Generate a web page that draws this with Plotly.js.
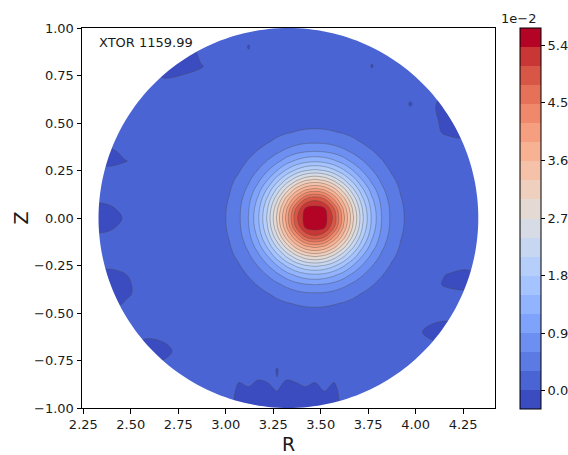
<!DOCTYPE html>
<html>
<head>
<meta charset="utf-8">
<script src="https://cdn.plot.ly/plotly-3.0.1.min.js"></script>
<style>html,body{margin:0;padding:0;background:#fff;}#chart{width:568px;height:455px;}</style>
</head>
<body>
<div id="chart"></div>
<script>
// ---- data (field values in units of 1e-2) ----
const R = [2.27,2.37,2.47,2.57,2.67,2.77,2.87,2.97,3.02,3.07,3.12,3.17,3.22,3.27,3.32,3.37,3.42,3.47,3.52,3.57,3.62,3.67,3.72,3.77,3.82,3.87,3.92,3.97,4.07,4.17,4.27,4.37];
const Z = [-1.0,-0.9,-0.8,-0.7,-0.6,-0.5,-0.45,-0.4,-0.35,-0.3,-0.25,-0.2,-0.15,-0.1,-0.05,0,0.05,0.1,0.15,0.2,0.25,0.3,0.35,0.4,0.45,0.5,0.6,0.7,0.8,0.9,1.0];
const psi = [
[0.15,0.15,0.15,0.15,0.15,0.15,0.15, 0.15,0.15,-0.2,-0.2,-0.2,-0.2,-0.2,-0.2,-0.2,-0.2,-0.2,-0.2,-0.2,0.15,0.15,0.15,0.15,0.15,0.15,0.15,0.15, 0.15,0.15,0.15,0.15],
[0.15,0.15,0.15,0.15,0.15,0.15,0.15, 0.15,0.15,-0.05,0,-0.1,-0.05,0.05,-0.1,-0.05,0,-0.05,0.05,-0.05,0.15,0.15,0.15,0.15,0.15,0.15,0.15,0.15, 0.15,0.15,0.15,0.15],
[0.15,0.15,0.15,0.15,0.15,0.15,0.15, 0.15,0.15,0.15,0.15,0.15,0.15,0,0.15,0.15,0.15,0.15,0.15,0.15,0.15,0.15,0.15,0.15,0.15,0.15,0.15,0.15, 0.15,0.15,0.15,0.15],
[0.15,0.15,0.15,-0.2,-0.1,0.15,0.15, 0.15,0.15,0.15,0.15,0.15,0.15,0.15,0.15,0.15,0.15,0.15,0.15,0.15,0.15,0.15,0.15,0.15,0.15,0.15,0.15,0.15, 0.15,0.15,0.15,0.15],
[0.15,0.15,0.15,0.15,0.15,0.15,0.15, 0.15,0.15,0.15,0.15,0.15,0.15,0.15,0.15,0.15,0.15,0.15,0.15,0.15,0.15,0.15,0.15,0.15,0.15,0.15,0.15,0.15, -0.05,-0.15,0.15,0.15],
[0.15,0.15,0.15,0.15,0.15,0.15,0.15, 0.15,0.15,0.16,0.17,0.17,0.19,0.20,0.22,0.23,0.25,0.25,0.25,0.23,0.22,0.20,0.19,0.17,0.17,0.16,0.15,0.15, 0.15,0.15,0.15,0.15],
[0.15,-0.2,0.05,0.15,0.15,0.15,0.15, 0.15,0.16,0.17,0.18,0.20,0.23,0.26,0.30,0.33,0.35,0.36,0.35,0.33,0.30,0.26,0.23,0.20,0.18,0.17,0.16,0.15, 0.15,0.15,0.15,0.15],
[0.15,-0.2,-0.05,0.15,0.15,0.15,0.15, 0.16,0.17,0.18,0.21,0.25,0.30,0.37,0.44,0.51,0.56,0.57,0.56,0.51,0.44,0.37,0.30,0.25,0.21,0.18,0.17,0.16, 0.15,0.15,0.15,0.15],
[0.15,-0.2,-0.05,0.15,0.15,0.15,0.15, 0.17,0.18,0.21,0.26,0.33,0.43,0.56,0.69,0.81,0.89,0.92,0.89,0.81,0.69,0.56,0.43,0.33,0.26,0.21,0.18,0.17, 0.15,-0.05,-0.15,0.15],
[0.15,-0.2,0,0.15,0.15,0.15,0.15, 0.17,0.20,0.25,0.33,0.46,0.63,0.83,1.06,1.26,1.40,1.45,1.40,1.26,1.06,0.83,0.63,0.46,0.33,0.25,0.20,0.17, 0.15,0,-0.15,0.15],
[0.15,0.15,0.15,0.15,0.15,0.15,0.15, 0.19,0.23,0.30,0.43,0.63,0.89,1.21,1.56,1.87,2.09,2.17,2.09,1.87,1.56,1.21,0.89,0.63,0.43,0.30,0.23,0.19, 0.15,0.15,0.15,0.15],
[0.15,0.15,0.15,0.15,0.15,0.15,0.15, 0.20,0.26,0.37,0.56,0.83,1.21,1.68,2.17,2.62,2.94,3.06,2.94,2.62,2.17,1.68,1.21,0.83,0.56,0.37,0.26,0.20, 0.15,0.15,0.15,0.15],
[0.15,0.15,0.15,0.15,0.15,0.15,0.15, 0.22,0.30,0.44,0.69,1.06,1.56,2.17,2.83,3.43,3.85,4.00,3.85,3.43,2.83,2.17,1.56,1.06,0.69,0.44,0.30,0.22, 0.15,0.15,0.15,0.15],
[0.15,0.15,0.15,0.15,0.15,0.15,0.15, 0.23,0.33,0.51,0.81,1.26,1.87,2.62,3.43,4.16,4.80,5.00,4.80,4.16,3.43,2.62,1.87,1.26,0.81,0.51,0.33,0.23, 0.15,0.15,0.15,0.15],
[-0.2,-0.1,0.15,0.15,0.15,0.15,0.15, 0.25,0.35,0.56,0.89,1.40,2.09,2.94,3.85,4.80,5.42,5.52,5.42,4.80,3.85,2.94,2.09,1.40,0.89,0.56,0.35,0.25, 0.15,0.15,0.15,0.15],
[-0.2,-0.15,0.05,0.15,0.15,0.15,0.15, 0.25,0.36,0.57,0.92,1.45,2.17,3.06,4.00,5.00,5.52,5.68,5.52,5.00,4.00,3.06,2.17,1.45,0.92,0.57,0.36,0.25, 0.15,0.15,0.15,0.15],
[-0.2,-0.1,0.15,0.15,0.15,0.15,0.15, 0.25,0.35,0.56,0.89,1.40,2.09,2.94,3.85,4.80,5.42,5.52,5.42,4.80,3.85,2.94,2.09,1.40,0.89,0.56,0.35,0.25, 0.15,0.15,0.15,0.15],
[0.15,0.15,0.15,0.15,0.15,0.15,0.15, 0.23,0.33,0.51,0.81,1.26,1.87,2.62,3.43,4.16,4.80,5.00,4.80,4.16,3.43,2.62,1.87,1.26,0.81,0.51,0.33,0.23, 0.15,0.15,0.15,0.15],
[0.15,0.15,0.15,0.15,0.15,0.15,0.15, 0.22,0.30,0.44,0.69,1.06,1.56,2.17,2.83,3.43,3.85,4.00,3.85,3.43,2.83,2.17,1.56,1.06,0.69,0.44,0.30,0.22, 0.15,0.15,0.15,0.15],
[0.15,0.15,0.15,0.15,0.15,0.15,0.15, 0.20,0.26,0.37,0.56,0.83,1.21,1.68,2.17,2.62,2.94,3.06,2.94,2.62,2.17,1.68,1.21,0.83,0.56,0.37,0.26,0.20, 0.15,0.15,0.15,0.15],
[0.15,0.15,0.15,0.15,0.15,0.15,0.15, 0.19,0.23,0.30,0.43,0.63,0.89,1.21,1.56,1.87,2.09,2.17,2.09,1.87,1.56,1.21,0.89,0.63,0.43,0.30,0.23,0.19, 0.15,0.15,0.15,0.15],
[0.15,-0.15,0,0.15,0.15,0.15,0.15, 0.17,0.20,0.25,0.33,0.46,0.63,0.83,1.06,1.26,1.40,1.45,1.40,1.26,1.06,0.83,0.63,0.46,0.33,0.25,0.20,0.17, 0.15,0.15,0.15,0.15],
[0.15,-0.15,0.15,0.15,0.15,0.15,0.15, 0.17,0.18,0.21,0.26,0.33,0.43,0.56,0.69,0.81,0.89,0.92,0.89,0.81,0.69,0.56,0.43,0.33,0.26,0.21,0.18,0.17, 0.15,0.15,0.15,0.15],
[0.15,0.15,0.15,0.15,0.15,0.15,0.15, 0.16,0.17,0.18,0.21,0.25,0.30,0.37,0.44,0.51,0.56,0.57,0.56,0.51,0.44,0.37,0.30,0.25,0.21,0.18,0.17,0.16, 0.15,0.15,0.15,0.15],
[0.15,0.15,0.15,0.15,0.15,0.15,0.15, 0.15,0.16,0.17,0.18,0.20,0.23,0.26,0.30,0.33,0.35,0.36,0.35,0.33,0.30,0.26,0.23,0.20,0.18,0.17,0.16,0.15, 0.15,-0.05,-0.2,0.15],
[0.15,0.15,0.15,0.15,0.15,0.15,0.15, 0.15,0.15,0.16,0.17,0.17,0.19,0.20,0.22,0.23,0.25,0.25,0.25,0.23,0.22,0.20,0.19,0.17,0.17,0.16,0.15,0.15, 0.15,-0.1,-0.2,0.15],
[0.15,0.15,0.15,0.15,0.15,0.15,0.15, 0.15,0.15,0.15,0.15,0.15,0.15,0.15,0.15,0.15,0.15,0.15,0.15,0.15,0.15,0.15,0.15,0.15,0.15,0.15,0.15,0, 0.15,-0.2,-0.2,0.15],
[0.15,0.15,0.15,0.15,0.15,0.15,0.15, 0.15,0.15,0.15,0.15,0.15,0.15,0.15,0.15,0.15,0.15,0.15,0.15,0.15,0.15,0.15,0.15,0.15,0.15,0.15,0.15,0.15, 0.15,0.15,0.15,0.15],
[0.15,0.15,0.15,0.15,-0.2,-0.1,0, 0.15,0.15,0.15,0.15,0.15,0.15,0.15,0.15,0.15,0.15,0.15,0.15,0.15,0.15,0.15,0.15,0,0.15,0.15,0.15,0.15, 0.15,0.15,0.15,0.15],
[0.15,0.15,0.15,0.15,-0.2,-0.2,0.15, 0.15,0.15,0.15,0,0.15,0.15,0.15,0.15,0.15,0.15,0.15,0.15,0.15,0.15,0.15,0.15,0.15,0.15,0.15,0.15,0.15, 0.15,0.15,0.15,0.15],
[0.15,0.15,0.15,0.15,0.15,0.15,0.15, 0.15,0.15,0.15,0.15,0.15,0.15,0.15,0.15,0.15,0.15,0.15,0.15,0.15,0.15,0.15,0.15,0.15,0.15,0.15,0.15,0.15, 0.15,0.15,0.15,0.15]
];
const levelMin = -0.28, levelMax = 5.68, levelStep = 0.298;
const xTicks = [2.25,2.50,2.75,3.00,3.25,3.50,3.75,4.00,4.25];
const yTicks = [-1.00,-0.75,-0.50,-0.25,0.00,0.25,0.50,0.75,1.00];
const cbTicks = [0.0,0.9,1.8,2.7,3.6,4.5,5.4];
const label = 'XTOR 1159.99';

// ---- domain geometry (plasma boundary) ----
const R0 = 3.33, a0 = 1.0;

// ---- coolwarm colormap ----
const cw = [[59,76,192],[68,90,204],[77,104,215],[87,117,225],[98,130,234],[108,142,241],[119,154,247],[130,165,251],[141,176,254],[152,185,255],[163,194,255],[174,201,253],[184,208,249],[194,213,244],[204,217,238],[213,219,230],[221,221,221],[229,216,209],[236,211,197],[241,204,184],[245,196,172],[247,187,159],[247,177,147],[247,166,134],[244,154,123],[241,141,111],[236,127,99],[229,112,88],[222,96,77],[213,80,66],[203,62,56],[192,40,47],[180,4,38]];
function cwAt(t) {
  const f = Math.max(0, Math.min(1, t)) * (cw.length - 1);
  const i = Math.min(cw.length - 2, Math.floor(f)), u = f - i;
  const c = cw[i].map((v, k) => Math.round(v + (cw[i+1][k] - v) * u));
  return 'rgb(' + c.join(',') + ')';
}
const nBands = Math.round((levelMax - levelMin) / levelStep);
const bandColors = [];
for (let i = 0; i < nBands; i++) bandColors.push(cwAt(i / (nBands - 1)));
const contourScale = bandColors.map((c, i) => [i / (nBands - 1), c]);
const barScale = [];
bandColors.forEach((c, i) => { barScale.push([i / nBands, c]); barScale.push([(i + 1) / nBands, c]); });

// mask outside the circular boundary
let p = 'M 2.0,-1.3 L 4.7,-1.3 L 4.7,1.3 L 2.0,1.3 Z M ';
const N = 240;
for (let k = 0; k <= N; k++) {
  const t = 2*Math.PI*k/N;
  p += (k ? ' L ' : '') + (R0 + a0*Math.cos(t)).toFixed(5) + ',' + (a0*Math.sin(t)).toFixed(5);
}
p += ' Z';

const font = 'DejaVu Sans, sans-serif';
const txt = '#1a1a1a';
const field = {
  type: 'contour', x: R, y: Z, z: psi,
  autocontour: false,
  contours: {start: levelMin + levelStep, end: levelMax - levelStep * 0.999, size: levelStep, coloring: 'fill', showlines: true},
  line: {color: 'rgba(70,70,70,0.6)', width: 0.6, smoothing: 1},
  colorscale: contourScale,
  showscale: false,
  hoverinfo: 'skip'
};
const scaleKey = {
  type: 'scatter', mode: 'markers', x: [100], y: [100],
  marker: {
    color: [levelMin], cmin: levelMin, cmax: levelMax, colorscale: barScale, showscale: true, size: 1,
    colorbar: {
      xref: 'container', yref: 'paper',
      x: 520 / 568, xanchor: 'left', xpad: 0, ypad: 0,
      y: 0.5, yanchor: 'middle', len: 381, lenmode: 'pixels',
      thickness: 21, thicknessmode: 'pixels',
      outlinewidth: 1, outlinecolor: '#000',
      ticks: 'outside', ticklen: 4, tickwidth: 1, tickcolor: '#000',
      tickvals: cbTicks, tickformat: '.1f',
      tickfont: {family: font, size: 13, color: txt}
    }
  },
  hoverinfo: 'skip'
};

const layout = {
  width: 568, height: 455,
  margin: {l: 82, r: 73, t: 28, b: 47},
  paper_bgcolor: '#fff', plot_bgcolor: '#fff',
  showlegend: false,
  xaxis: {
    range: [2.243, 4.418], tickvals: xTicks, tickformat: '.2f',
    ticks: 'outside', ticklen: 4.5, tickwidth: 1, tickcolor: '#000',
    showline: true, mirror: true, linecolor: '#000', linewidth: 1,
    showgrid: false, zeroline: false,
    tickfont: {family: font, size: 13, color: txt},
    title: {text: 'R', font: {family: font, size: 19, color: txt}, standoff: 8}
  },
  yaxis: {
    range: [-1, 1], tickvals: yTicks, tickformat: '.2f',
    ticks: 'outside', ticklen: 4.5, tickwidth: 1, tickcolor: '#000',
    showline: true, mirror: true, linecolor: '#000', linewidth: 1,
    showgrid: false, zeroline: false,
    tickfont: {family: font, size: 13, color: txt},
    title: {text: 'Z', font: {family: font, size: 19, color: txt}, standoff: 0}
  },
  shapes: [{type: 'path', path: p, xref: 'x', yref: 'y', fillcolor: '#fff', fillrule: 'evenodd', line: {width: 0}, layer: 'above'}],
  annotations: [
    {text: label, xref: 'paper', yref: 'paper', x: 0.0363, y: 0.963, xanchor: 'left', yanchor: 'middle', showarrow: false, font: {family: font, size: 13, color: txt}},
    {text: '1e\u22122', xref: 'paper', yref: 'paper', x: 1.104, y: 1.026, xanchor: 'right', yanchor: 'middle', showarrow: false, font: {family: font, size: 13, color: txt}}
  ]
};

Plotly.newPlot('chart', [field, scaleKey], layout, {displayModeBar: false, staticPlot: true});
</script>
</body>
</html>
